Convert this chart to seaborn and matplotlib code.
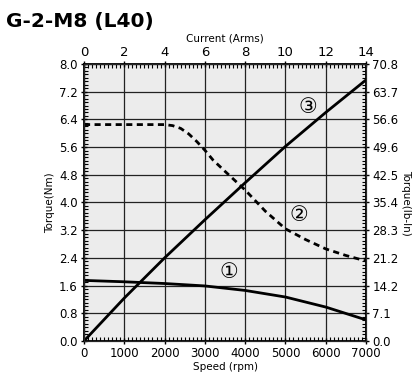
import matplotlib
matplotlib.use("Agg")
import matplotlib.pyplot as plt
import seaborn as sns
import pandas as pd
from matplotlib.ticker import MultipleLocator

# dados
speed_1 = [0, 1000, 2000, 3000, 4000, 5000, 6000, 7000]
torque_1 = [1.75, 1.71, 1.66, 1.59, 1.46, 1.27, 0.98, 0.61]

speed_2 = [0, 500, 1000, 1500, 2000, 2200, 2400, 2600, 2800, 3000, 3200, 3500,
           4000, 4500, 5000, 5500, 6000, 6500, 7000]
torque_2 = [6.25, 6.25, 6.25, 6.25, 6.25, 6.22, 6.14, 5.98, 5.76, 5.51, 5.23, 4.9,
            4.36, 3.75, 3.24, 2.93, 2.66, 2.47, 2.31]

current_3 = [0, 2, 4, 6, 8, 10, 12, 14]
torque_3 = [0, 1.24, 2.4, 3.5, 4.57, 5.62, 6.6, 7.54]

speed_ticks = [0, 1000, 2000, 3000, 4000, 5000, 6000, 7000]
current_ticks = [0, 2, 4, 6, 8, 10, 12, 14]
nm_ticks = [0.0, 0.8, 1.6, 2.4, 3.2, 4.0, 4.8, 5.6, 6.4, 7.2, 8.0]
lbin_labels = ['0.0', '7.1', '14.2', '21.2', '28.3', '35.4', '42.5', '49.6', '56.6', '63.7', '70.8']

sns.set_style("white")
plt.rcParams['font.family'] = ['DejaVu Sans']
for k in ['text.color', 'axes.labelcolor', 'xtick.color', 'ytick.color']:
    plt.rcParams[k] = 'black'

fig = plt.figure(figsize=(4.14, 3.78), dpi=100)
ax = fig.add_axes([0.2029, 0.0979, 0.6812, 0.7328])
ax.set_facecolor('#ececec')

df1 = pd.DataFrame({'speed': speed_1, 'torque': torque_1})
df2 = pd.DataFrame({'speed': speed_2, 'torque': torque_2})
df3 = pd.DataFrame({'current': current_3, 'torque': torque_3})

sns.lineplot(data=df1, x='speed', y='torque', ax=ax, color='black', linewidth=2.0)
sns.lineplot(data=df2, x='speed', y='torque', ax=ax, color='black', linewidth=2.0,
             linestyle=(0, (2.2, 1.6)))

ax.set_xlim(0, 7000)
ax.set_ylim(0, 8.0)
ax.set_xticks(speed_ticks)
ax.set_yticks(nm_ticks)
ax.set_xticklabels([str(s) for s in speed_ticks])
ax.set_yticklabels(['%.1f' % v for v in nm_ticks])
ax.xaxis.set_minor_locator(MultipleLocator(100))
ax.yaxis.set_minor_locator(MultipleLocator(0.1))
ax.grid(True, which='major', color='#222222', linewidth=0.9)
ax.tick_params(which='major', direction='inout', length=5, width=1, labelsize=8.5, pad=2)
ax.tick_params(which='minor', direction='in', length=3, width=0.8)
ax.set_xlabel('Speed (rpm)', fontsize=7.5, labelpad=1)
ax.set_ylabel('Torque(Nm)', fontsize=7.5, labelpad=3)
for s in ax.spines.values():
    s.set_color('black')
    s.set_linewidth(1.3)

# eixo de corrente (topo)
ax_top = ax.twiny()
sns.lineplot(data=df3, x='current', y='torque', ax=ax_top, color='black', linewidth=2.0)
ax_top.set_xlim(0, 14)
ax_top.set_ylim(0, 8.0)
ax_top.set_xticks(current_ticks)
ax_top.xaxis.set_minor_locator(MultipleLocator(0.2))
ax_top.tick_params(which='major', direction='inout', length=5, width=1, labelsize=9.5, pad=1)
ax_top.tick_params(which='minor', direction='in', length=3, width=0.8)
ax_top.set_xlabel('Current (Arms)', fontsize=7.5, labelpad=3)
ax_top.set_ylabel('')
ax_top.yaxis.set_visible(False)

# eixo lb-in (direita)
ax_r = ax.twinx()
ax_r.set_ylim(0, 8.0)
ax_r.set_yticks(nm_ticks)
ax_r.set_yticklabels(lbin_labels)
ax_r.yaxis.set_minor_locator(MultipleLocator(0.1))
ax_r.tick_params(which='major', direction='inout', length=5, width=1, labelsize=8.5, pad=2)
ax_r.tick_params(which='minor', direction='in', length=3, width=0.8)
ax_r.set_ylabel('Torque(lb-In)', fontsize=7.5, rotation=270, labelpad=9)

ax.text(3600, 1.99, '\u2460', fontsize=15, ha='center', va='center')
ax.text(5330, 3.64, '\u2461', fontsize=15, ha='center', va='center')
ax.text(5560, 6.76, '\u2462', fontsize=15, ha='center', va='center')

fig.text(0.015, 0.942, 'G-2-M8 (L40)', fontsize=14.5, fontweight='bold',
         ha='left', va='center')

fig.savefig('out.png', dpi=100)
